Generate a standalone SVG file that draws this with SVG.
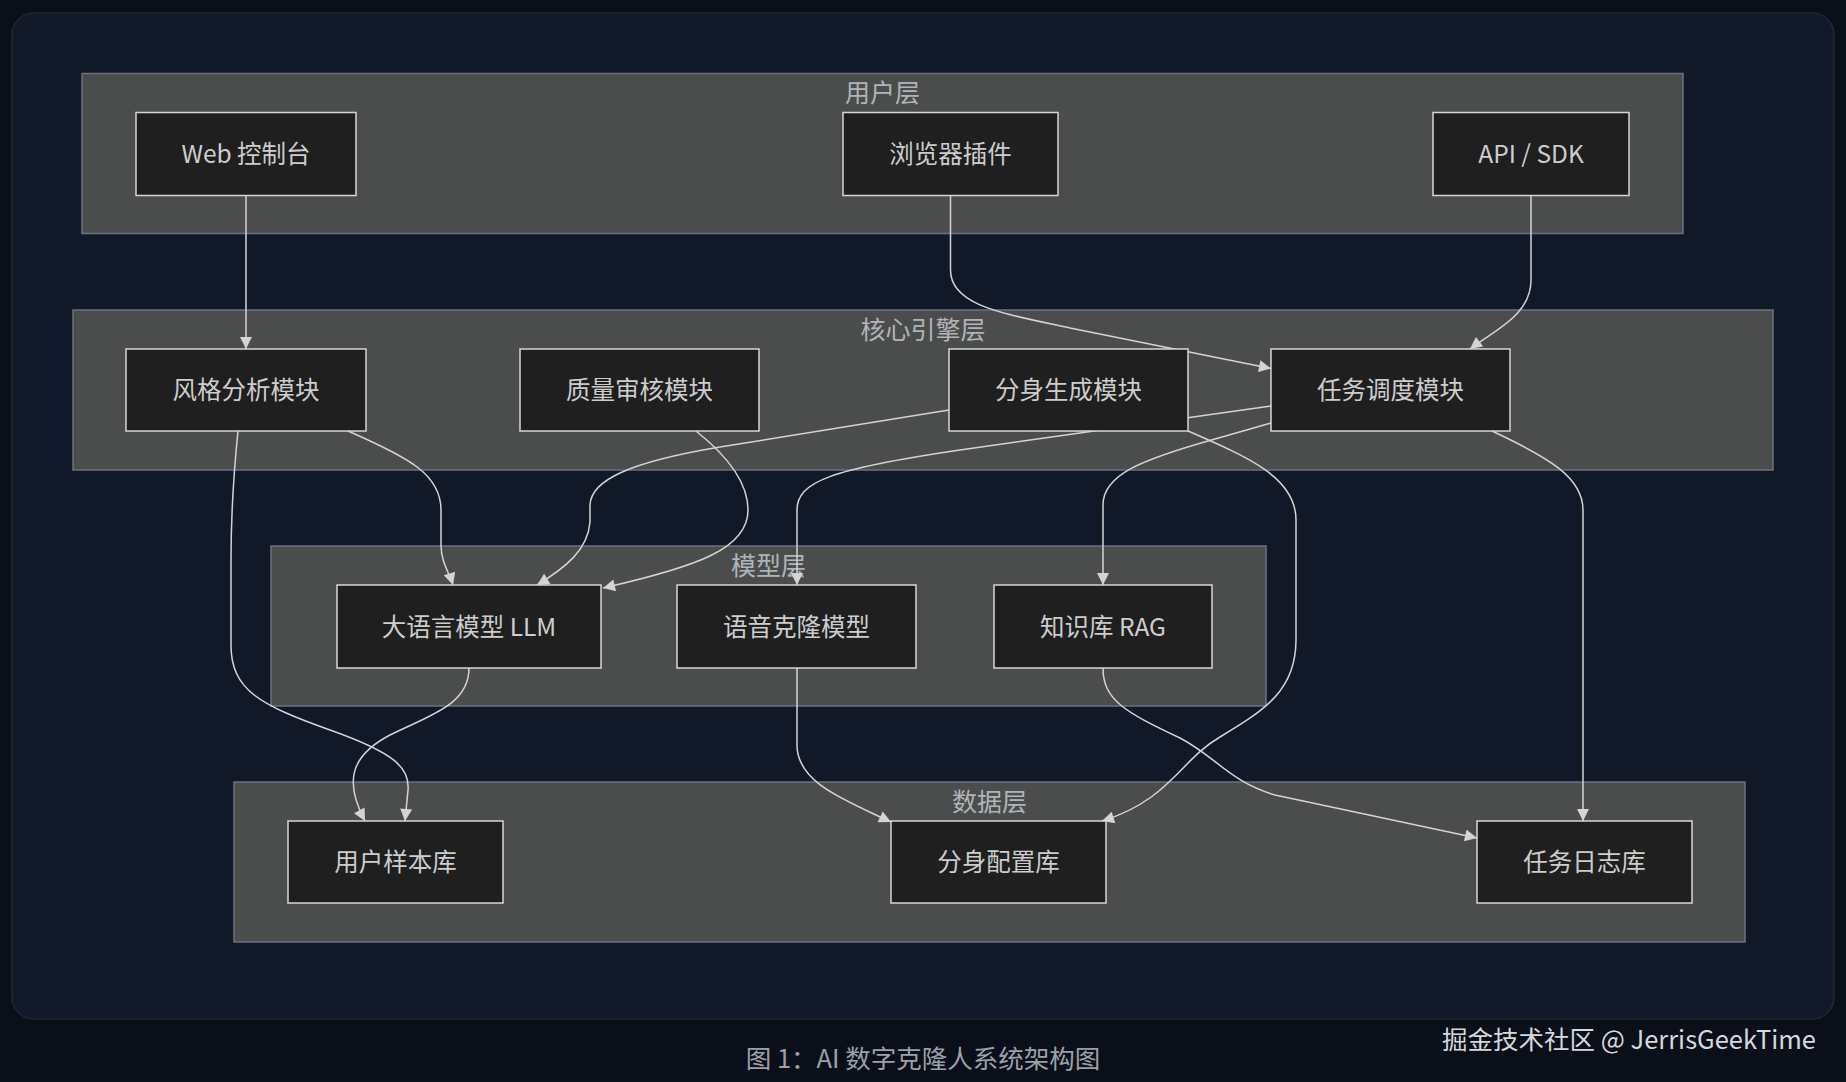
<svg xmlns="http://www.w3.org/2000/svg" width="1846" height="1082" viewBox="0 0 1846 1082">
<style>
.bg{fill:#0b0f1a}
.panel{fill:#111827;stroke:#1f2735;stroke-width:1.5}
.layer{fill:#4b4d4c;stroke:#6b7180;stroke-width:1.5}
.node rect{fill:#1f1f1f;stroke:#d6d6d6;stroke-width:1.5}
.node text{font-family:"Noto Sans CJK SC","Noto Sans",sans-serif;font-size:24.5px;fill:#cdcdcd;text-anchor:middle;dominant-baseline:central}
.ltitle{font-family:"Noto Sans CJK SC","Noto Sans",sans-serif;font-size:25px;fill:#b0b4ba;text-anchor:middle;dominant-baseline:central}
.edges path{fill:none;stroke:#d4d4d4;stroke-width:1.5;marker-end:url(#arr)}
.caption{font-family:"Noto Sans CJK SC","Noto Sans",sans-serif;font-size:25.5px;fill:#9ca0a8;text-anchor:middle;dominant-baseline:central}
.mark{font-family:"Noto Sans CJK SC","Noto Sans",sans-serif;font-size:25.5px;fill:#d6d8dc;text-anchor:end;dominant-baseline:central}
</style>
<defs>
<marker id="arr" viewBox="0 0 10 10" refX="10" refY="5" markerUnits="userSpaceOnUse" markerWidth="13" markerHeight="12" orient="auto">
<path d="M0,0 L10,5 L0,10 z" fill="#d4d4d4"/>
</marker>
</defs>
<rect class="bg" x="0" y="0" width="1846" height="1082"/>
<rect class="panel" x="12" y="13" width="1822" height="1006" rx="22" ry="22"/>

<g id="layer-user"><rect class="layer" x="82" y="73.5" width="1601" height="160"/><text class="ltitle" x="882.5" y="91">用户层</text></g>
<g id="layer-core"><rect class="layer" x="73" y="310" width="1700" height="160"/><text class="ltitle" x="923" y="327.5">核心引擎层</text></g>
<g id="layer-model"><rect class="layer" x="271" y="546" width="995" height="160"/><text class="ltitle" x="768.5" y="563.5">模型层</text></g>
<g id="layer-data"><rect class="layer" x="234" y="782" width="1511" height="160"/><text class="ltitle" x="989.5" y="799.5">数据层</text></g>

<g id="connectors" class="edges">
<path d="M246,195 L246,349"/>
<path d="M950.5,195 L950.5,270 C950.5,305 1000,313 1070,328 L1271,368.5"/>
<path d="M1531,195 L1531,280 C1531,315 1495,330 1470,349"/>
<path d="M238,431 C233,480 231,520 231,560 L231,645 C231,690 260,705 330,730 C395,753 410,768 408,790 L405,821"/>
<path d="M348,431 C410,458 441,475 441,510 L441,545 C441,562 449,572 453,585"/>
<path d="M696,431 C730,458 748,485 748,510 C748,548 700,566 603,588"/>
<path d="M949,410 L720,447 C630,462 591,480 590,505 L590,522 C588,550 565,568 537,585"/>
<path d="M1271,406 L960,450 C830,469 797,482 797,510 L797,585"/>
<path d="M1271,423 L1215,439 C1140,460 1103,475 1103,505 L1103,585"/>
<path d="M1188,431 C1250,458 1296,478 1296,520 L1296,640 C1296,690 1265,710 1220,737 C1180,760 1170,800 1102,821"/>
<path d="M1103,668 C1103,700 1125,712 1180,738 C1215,756 1230,782 1275,795 L1477,838"/>
<path d="M1492,431 C1550,458 1583,478 1583,510 L1583,821"/>
<path d="M469,668 C469,705 430,715 390,735 C352,755 343,780 365,821"/>
<path d="M797,668 L797,745 C797,783 845,800 891,822"/>
</g>

<g id="n-web" class="node"><rect x="136" y="112.5" width="220" height="83"/><text x="246" y="152.5">Web 控制台</text></g>
<g id="n-plugin" class="node"><rect x="843" y="112.5" width="215" height="83"/><text x="950.5" y="152.5">浏览器插件</text></g>
<g id="n-api" class="node"><rect x="1433" y="112.5" width="196" height="83"/><text x="1531" y="152.5">API / SDK</text></g>

<g id="n-style" class="node"><rect x="126" y="349" width="240" height="82"/><text x="246" y="388.5">风格分析模块</text></g>
<g id="n-quality" class="node"><rect x="520" y="349" width="239" height="82"/><text x="639.5" y="388.5">质量审核模块</text></g>
<g id="n-gen" class="node"><rect x="949" y="349" width="239" height="82"/><text x="1068.5" y="388.5">分身生成模块</text></g>
<g id="n-sched" class="node"><rect x="1271" y="349" width="239" height="82"/><text x="1390.5" y="388.5">任务调度模块</text></g>

<g id="n-llm" class="node"><rect x="337" y="585" width="264" height="83"/><text x="469" y="625">大语言模型 LLM</text></g>
<g id="n-voice" class="node"><rect x="677" y="585" width="239" height="83"/><text x="796.5" y="625">语音克隆模型</text></g>
<g id="n-rag" class="node"><rect x="994" y="585" width="218" height="83"/><text x="1103" y="625">知识库 RAG</text></g>

<g id="n-samples" class="node"><rect x="288" y="821" width="215" height="82"/><text x="395.5" y="860.5">用户样本库</text></g>
<g id="n-config" class="node"><rect x="891" y="821" width="215" height="82"/><text x="998.5" y="860.5">分身配置库</text></g>
<g id="n-log" class="node"><rect x="1477" y="821" width="215" height="82"/><text x="1584.5" y="860.5">任务日志库</text></g>

<text class="caption" x="923" y="1056">图 1：AI 数字克隆人系统架构图</text>
<text class="mark" x="1816" y="1037">掘金技术社区 @ JerrisGeekTime</text>
</svg>
